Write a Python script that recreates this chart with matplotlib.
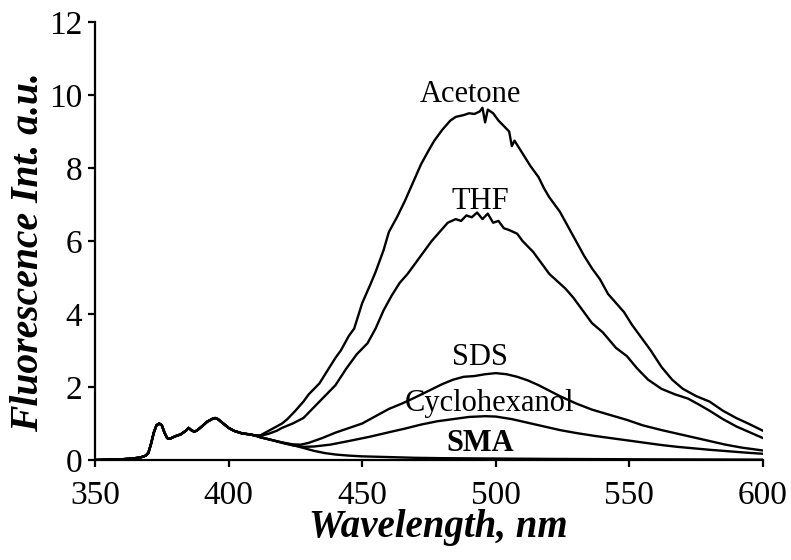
import matplotlib
matplotlib.use("Agg")
import matplotlib.pyplot as plt
import numpy as np

plt.rcParams['font.family'] = ['Liberation Serif', 'DejaVu Serif']

# Shared excitation-region part (350-410 nm)
wl_common = [350, 355, 360, 364, 367, 369, 370, 371, 372, 373, 374, 375, 376, 377, 378,
             380, 382, 384, 385, 386, 387, 388, 390, 392, 394, 395, 396, 398, 400, 402,
             405, 408, 410]
int_common = [0.0, 0.01, 0.02, 0.04, 0.07, 0.12, 0.2, 0.45, 0.75, 0.95, 1.0, 0.95, 0.75, 0.6, 0.58,
              0.65, 0.7, 0.8, 0.88, 0.82, 0.78, 0.8, 0.92, 1.05, 1.13, 1.15, 1.12, 1.0, 0.88, 0.8,
              0.73, 0.7, 0.67]

wl_acetone = [412, 415, 418, 420, 422, 425, 428, 430, 432, 434, 437, 440, 442, 445, 447, 450,
              453, 455, 458, 460, 463, 466, 469, 472, 475, 477, 480, 483, 485, 488, 490, 492,
              494, 495, 496, 497, 499, 501, 503, 505, 506, 507, 510, 513, 516, 518, 520, 522,
              524, 527, 530, 533, 536, 539, 542, 545, 548, 551, 555, 558, 562, 566, 570, 575,
              580, 585, 590, 595, 600]
int_acetone = [0.68, 0.8, 0.92, 1.0, 1.12, 1.35, 1.6, 1.8, 1.95, 2.1, 2.45, 2.8, 3.0, 3.4, 3.6, 4.3,
               4.8, 5.15, 5.75, 6.25, 6.65, 7.1, 7.6, 8.1, 8.5, 8.75, 9.05, 9.3, 9.4, 9.45, 9.5, 9.48,
               9.55, 9.65, 9.25, 9.6, 9.5, 9.3, 9.15, 9.0, 8.6, 8.75, 8.4, 8.05, 7.75, 7.45, 7.2, 7.0,
               6.8, 6.4, 6.0, 5.6, 5.25, 4.95, 4.55, 4.3, 4.05, 3.7, 3.3, 3.0, 2.55, 2.2, 1.95, 1.75,
               1.6, 1.35, 1.15, 0.98, 0.8]

wl_thf = [412, 415, 418, 420, 424, 428, 432, 436, 440, 444, 448, 452, 455, 458, 461, 464, 467,
          470, 473, 476, 479, 482, 485, 487, 489, 491, 493, 495, 497, 499, 501, 503, 505, 508,
          510, 512, 514, 517, 520, 523, 526, 529, 532, 536, 540, 545, 549, 553, 557, 562, 567,
          572, 576, 580, 585, 590, 595, 600]
int_thf = [0.66, 0.72, 0.8, 0.88, 1.0, 1.15, 1.45, 1.75, 2.05, 2.5, 2.9, 3.2, 3.6, 4.1, 4.5, 4.85, 5.1,
           5.4, 5.7, 6.0, 6.25, 6.5, 6.6, 6.55, 6.7, 6.65, 6.78, 6.6, 6.75, 6.5, 6.55, 6.35, 6.3, 6.2,
           6.0, 5.85, 5.7, 5.4, 5.1, 4.9, 4.7, 4.45, 4.15, 3.75, 3.5, 3.07, 2.85, 2.5, 2.2, 1.95, 1.8,
           1.68, 1.52, 1.35, 1.12, 0.92, 0.76, 0.6]

wl_sds = [412, 416, 420, 424, 427, 430, 435, 440, 446, 450, 455, 460, 465, 470, 475, 480, 484,
          488, 492, 496, 500, 504, 508, 512, 516, 520, 524, 530, 536, 542, 549, 555, 562, 568,
          574, 580, 586, 592, 600]
int_sds = [0.62, 0.55, 0.48, 0.43, 0.42, 0.47, 0.6, 0.75, 0.9, 1.0, 1.2, 1.4, 1.55, 1.72, 1.9, 2.08, 2.2,
           2.28, 2.3, 2.35, 2.38, 2.35, 2.28, 2.18, 2.05, 1.9, 1.75, 1.55, 1.38, 1.25, 1.1, 0.95, 0.82,
           0.72, 0.62, 0.52, 0.42, 0.34, 0.26]

wl_cyclo = [412, 416, 420, 424, 428, 432, 438, 445, 453, 460, 466, 472, 478, 484, 490, 496, 500,
            506, 512, 518, 524, 530, 537, 543, 549, 556, 562, 568, 574, 580, 587, 594, 600]
int_cyclo = [0.62, 0.55, 0.47, 0.4, 0.36, 0.37, 0.42, 0.52, 0.64, 0.76, 0.86, 0.97, 1.06, 1.12, 1.18,
             1.2, 1.19, 1.12, 1.02, 0.92, 0.82, 0.74, 0.66, 0.6, 0.54, 0.47, 0.41, 0.36, 0.32, 0.28,
             0.24, 0.2, 0.17]

wl_sma = [412, 416, 420, 424, 428, 432, 436, 440, 445, 450, 460, 470, 480, 500, 520, 550, 575, 600]
int_sma = [0.62, 0.55, 0.48, 0.41, 0.33, 0.25, 0.19, 0.15, 0.12, 0.1, 0.08, 0.06, 0.05, 0.04, 0.03,
           0.02, 0.015, 0.01]

labels = ["Acetone", "THF", "SDS", "Cyclohexanol", "SMA"]
label_x = [490.4, 494.1, 494.0, 497.8, 494.0]
label_y = [10.0, 7.07, 2.82, 1.55, 0.44]
label_weight = ["normal", "normal", "normal", "normal", "bold"]

series = [
    (wl_acetone, int_acetone),
    (wl_thf, int_thf),
    (wl_sds, int_sds),
    (wl_cyclo, int_cyclo),
    (wl_sma, int_sma),
]

fig = plt.figure(figsize=(7.91, 5.60), dpi=100)
ax = fig.add_axes([95 / 791, 100 / 560, 668 / 791, 438 / 560])

for wl, it in series:
    x = wl_common + wl
    y = int_common + it
    ax.plot(x, y, color='black', lw=1.7)

for t, lx, ly, w in zip(labels, label_x, label_y, label_weight):
    ax.text(lx, ly, t, ha='center', va='center', fontsize=22, fontweight=w)

ax.set_xlim(350, 600)
ax.set_ylim(0, 12)
ax.set_xticks([350, 400, 450, 500, 550, 600])
ax.set_yticks([0, 2, 4, 6, 8, 10, 12])
for s in ['top', 'right']:
    ax.spines[s].set_visible(False)
for s in ['left', 'bottom']:
    ax.spines[s].set_linewidth(1.6)
ax.tick_params(axis='both', direction='out', length=5, width=1.6, labelsize=24)
ax.tick_params(axis='x', pad=10)
ax.tick_params(axis='y', pad=4)

fig.text(438 / 791, 1 - 528 / 560, "Wavelength, nm", ha='center', va='center',
         fontsize=28, fontweight='bold', fontstyle='italic')
fig.text(29 / 791, 1 - 252 / 560, "Fluorescence Int. a.u.", ha='center', va='center',
         rotation=90, fontsize=28.5, fontweight='bold', fontstyle='italic')

fig.savefig("out.png", dpi=100)
